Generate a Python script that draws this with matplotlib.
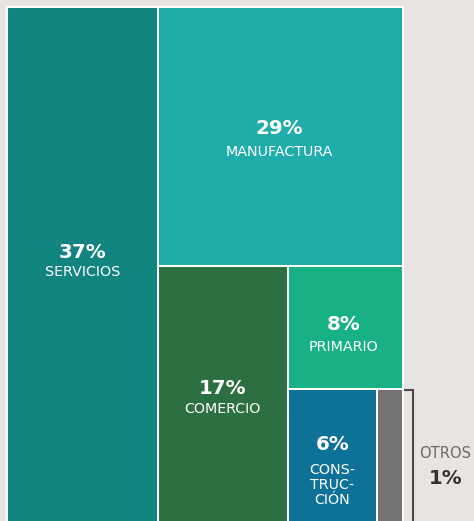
import matplotlib
matplotlib.use("Agg")
import matplotlib.pyplot as plt
from matplotlib.patches import Rectangle

# ---- data ----
sectors = ["SERVICIOS", "MANUFACTURA", "COMERCIO", "PRIMARIO", "CONSTRUCCIÓN", "OTROS"]
labels = ["SERVICIOS", "MANUFACTURA", "COMERCIO", "PRIMARIO", "CONS-\nTRUC-\nCIÓN", "OTROS"]
values = [37, 29, 17, 8, 6, 1]
colors = ["#11847f", "#1eada9", "#2c7041", "#17b185", "#0e7198", "#747474"]

# ---- layout (pixel units of the figure) ----
W, H = 474, 521
X0, X1 = 6.8, 403.2
Y0, Y1 = 6.8, 552.0
PRIM_SPLIT = 0.43      # designer's share of primario in its sub-column
CONS_SPLIT = 0.772     # designer's share of construcción in bottom strip

fig = plt.figure(figsize=(W / 100, H / 100), dpi=100)
fig.patch.set_facecolor("#e7e4e1")
ax = fig.add_axes([0, 0, 1, 1])
ax.set_xlim(0, W)
ax.set_ylim(H, 0)
ax.axis("off")

total = sum(values)
v = dict(zip(sectors, values))
xs = X0 + (X1 - X0) * v["SERVICIOS"] / total + 1.2
rest = total - v["SERVICIOS"]
ym = Y0 + (Y1 - Y0) * v["MANUFACTURA"] / rest
low = rest - v["MANUFACTURA"]
xc = xs + (X1 - xs) * v["COMERCIO"] / low
yp = ym + (Y1 - ym) * PRIM_SPLIT
xo = xc + (X1 - xc) * CONS_SPLIT

rects = {
    "SERVICIOS": (X0, Y0, xs, Y1),
    "MANUFACTURA": (xs, Y0, X1, ym),
    "COMERCIO": (xs, ym, xc, Y1),
    "PRIMARIO": (xc, ym, X1, yp),
    "CONSTRUCCIÓN": (xc, yp, xo, Y1),
    "OTROS": (xo, yp, X1, Y1),
}

for name, col in zip(sectors, colors):
    a, b, c, d = rects[name]
    ax.add_patch(Rectangle((a, b), c - a, d - b, facecolor=col,
                           edgecolor="white", linewidth=1.45))

PCT_FONT = dict(family=["DejaVu Sans"], fontweight="bold", color="white",
                fontsize=14.3, ha="center", va="center")
LAB_FONT = dict(family=["DejaVu Sans"], fontweight="normal", color="white",
                fontsize=10.3, ha="center", va="center", linespacing=1.12)

def cx(n):
    return (rects[n][0] + rects[n][2]) / 2

# label anchor: (x-center, pct y, label y)
anchors = {
    "SERVICIOS": (cx("SERVICIOS"), 252.5, 272),
    "MANUFACTURA": (cx("MANUFACTURA") - 1, 129, 152.5),
    "COMERCIO": (cx("COMERCIO"), 389, 409),
    "PRIMARIO": (cx("PRIMARIO") - 2, 324, 347),
    "CONSTRUCCIÓN": (cx("CONSTRUCCIÓN"), 445, 485),
}
for name, lab, val in zip(sectors, labels, values):
    if name == "OTROS":
        continue
    x, yp_, yl = anchors[name]
    ax.text(x, yp_, f"{val}%", **PCT_FONT)
    ax.text(x, yl, lab, **LAB_FONT)

# OTROS annotation with bracket
ob = rects["OTROS"]
ax.plot([X1 + 2, 413, 413], [ob[1] + 1, ob[1] + 1, H + 5], color="#4a4a4a",
        linewidth=1.5, solid_joinstyle="miter", clip_on=False)
ax.text(445.5, 454, labels[5], family=["DejaVu Sans"], color="#6a6a6a",
        fontsize=10.6, ha="center", va="center")
ax.text(445.5, 478, f"{values[5]}%", family=["DejaVu Sans"], fontweight="bold",
        color="#333333", fontsize=14.3, ha="center", va="center")

fig.savefig("out.png", dpi=100, facecolor=fig.get_facecolor())
